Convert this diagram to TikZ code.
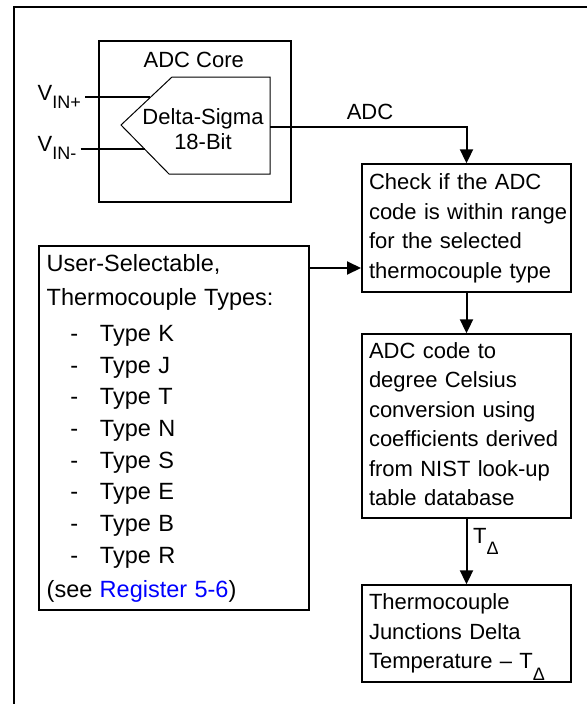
\documentclass[tikz,border=0pt]{standalone}
\usepackage{fontspec}
\setmainfont{Liberation Sans}
\usetikzlibrary{arrows.meta}
\definecolor{regblue}{RGB}{0,0,255}
\newcommand\lowsub[2]{\raisebox{-#1}[0pt][0pt]{\fontsize{18}{18}\selectfont #2}}
\newcommand\tctype[1]{\makebox[53.3pt][l]{\hspace{23.7pt}-}Type #1}
\begin{document}
\begin{tikzpicture}[x=1pt,y=-1pt,
  every node/.style={font=\fontsize{22}{29.5}\selectfont, inner sep=0pt},
  box/.style={draw, line width=2pt, anchor=north west, inner xsep=7pt, inner ysep=0pt, align=left},
  conn/.style={line width=2pt},
  arr/.style={conn, -{Triangle[length=14pt,width=13pt]}},
  ]
\useasboundingbox (0,0) rectangle (587,704);
% outer frame (cropped)
\draw[line width=2pt] (14,704) -- (14,7) -- (587,7);

% ADC core
\node[draw, line width=2pt, anchor=north west, minimum width=192.3pt, minimum height=160.7pt] (core) at (97.7,40) {};
\node[anchor=base] (coret) at (193.8,67.7) {ADC Core};

% Delta-sigma pentagon
\coordinate (ptip) at (121,125);
\coordinate (ptl) at (172,77);
\coordinate (ptr) at (270,77);
\coordinate (pbr) at (270,174);
\coordinate (pbl) at (169,174);
\draw[line width=1pt] (ptip) -- (ptl) -- (ptr) -- (pbr) -- (pbl) -- cycle;
\coordinate (pin) at (150.4,97.3);
\coordinate (nin) at (144.5,149);
\coordinate (dsout) at (270,126.7);
\node (ds) at (203,131.6) {\fontsize{22}{25.3}\selectfont\begin{tabular}{@{}c@{}}Delta-Sigma\\18-Bit\end{tabular}};

% inputs
\node[anchor=base west] (vinp) at (37.5,100.7) {V\lowsub{7.3pt}{IN+}};
\node[anchor=base west] (vinn) at (37.5,151.7) {V\lowsub{7.3pt}{IN-}};
\path ([xshift=4pt]vinp.east) coordinate (vinpE);
\path ([xshift=4pt]vinn.east) coordinate (vinnE);
\draw[conn] (vinpE |- pin) -- (pin);
\draw[conn] (vinnE |- nin) -- (nin);

% check box
\node[box, minimum height=127.4pt, text width=195pt] (chk) at (361,163.3)
  {\begin{tabular}{@{}l@{}}Check if the ADC\\code is within range\\for the selected\\thermocouple type\end{tabular}};

% conversion box
\node[box, minimum height=183.4pt, text width=195pt] (conv) at (361,333.3)
  {\begin{tabular}{@{}l@{}}ADC code to\\degree Celsius\\conversion using\\coefficients derived\\from NIST look-up\\table database\end{tabular}};

% result box
\node[box, minimum height=96.4pt, text width=195pt] (res) at (361,584.3)
  {\begin{tabular}{@{}l@{}}Thermocouple\\Junctions Delta\\Temperature – T\lowsub{11.5pt}{Δ}\end{tabular}};

% user box
\node[box, inner xsep=8pt, minimum height=364.3pt, text width=254pt] (usr) at (37.7,245)
  {\fontsize{23.5}{31.7}\selectfont\begin{tabular}{@{}l@{}}User-Selectable,\\[2.3pt]Thermocouple Types:\\[4pt]\tctype{K}\\\tctype{J}\\\tctype{T}\\\tctype{N}\\\tctype{S}\\\tctype{E}\\\tctype{B}\\\tctype{R}\\[2.3pt](see \textcolor{regblue}{Register 5-6})\end{tabular}};

% connectors
\draw[arr] (dsout) -| (chk.north);
\node[anchor=base] (adcl) at (370,119) {ADC};
\path ([yshift=-23pt]usr.north east) coordinate (uarr);
\draw[arr] (uarr) -- (uarr -| chk.west);
\draw[arr] (chk.south) -- (conv.north);
\draw[arr] (conv.south) -- (res.north);
\node[anchor=base west] (tdl) at (473,543.3) {T\lowsub{11.5pt}{Δ}};
\end{tikzpicture}
\end{document}
